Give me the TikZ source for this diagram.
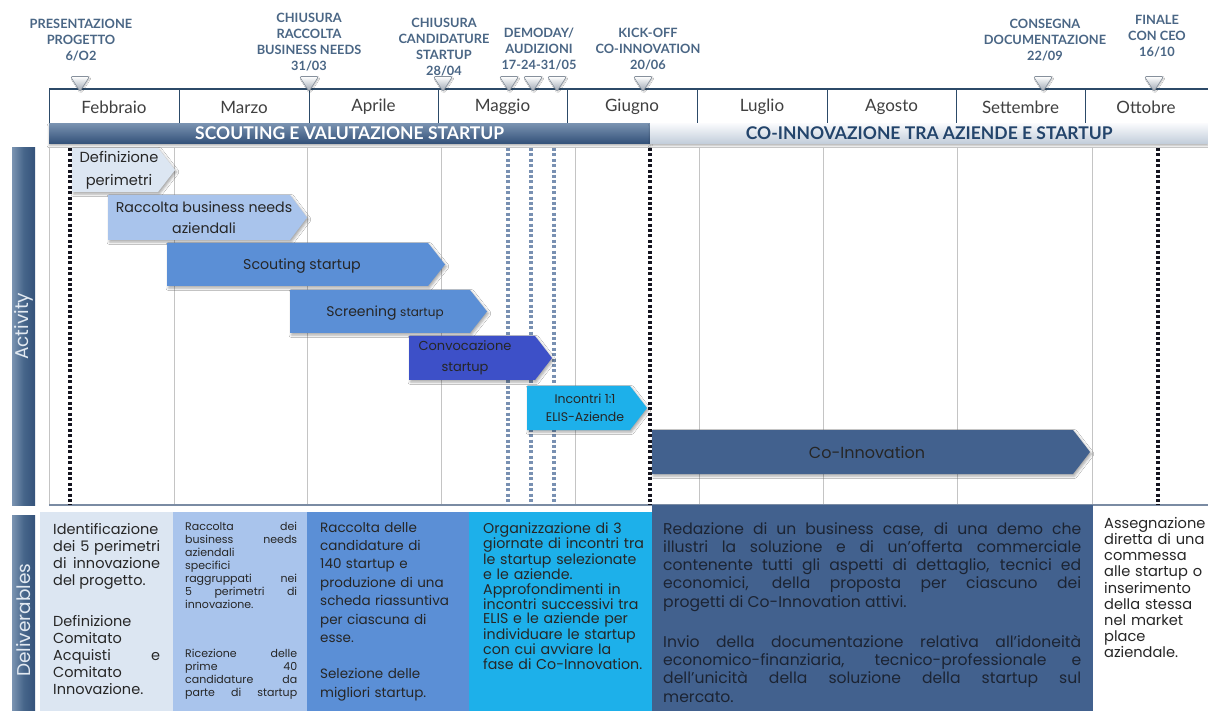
\documentclass[tikz,border=0pt]{standalone}
\usepackage{fontspec}
\setmainfont{Poppins}
\newfontfamily\headfont{Lato}
\usetikzlibrary{shadows.blur}

\definecolor{slate}{HTML}{42618E}
\definecolor{mstext}{HTML}{4A6685}
\definecolor{monthline}{HTML}{2C4A68}
\definecolor{monthtext}{HTML}{404040}
\definecolor{cA}{HTML}{DCE6F2}
\definecolor{cB}{HTML}{A9C4EC}
\definecolor{cC}{HTML}{5B8FD6}
\definecolor{cD}{HTML}{3D50C8}
\definecolor{cE}{HTML}{1DB0EA}
\definecolor{txt}{HTML}{262626}
\definecolor{txtdark}{HTML}{1C2433}
\definecolor{gridgray}{HTML}{C4C4C4}
\definecolor{dotblue}{HTML}{7890B2}
\definecolor{dotblack}{HTML}{14141F}
\definecolor{markgray}{HTML}{9AA4B0}
\definecolor{markedge}{HTML}{86909C}
\definecolor{barlight}{HTML}{7A93B1}
\definecolor{barmid}{HTML}{46658A}
\definecolor{bardark}{HTML}{34527A}
\definecolor{coitop}{HTML}{FAFBFD}
\definecolor{coibottom}{HTML}{C3CEDB}
\definecolor{coitext}{HTML}{23446B}
\definecolor{sidetext}{HTML}{E2E9F1}

% milestone marker: small shaded triangle pointing down to the month band
\newcommand{\msmarker}[1]{%
  \shade[top color=white, bottom color=markgray, draw=markedge, line width=0.6pt,
         rounded corners=1.5pt,
         blur shadow={shadow xshift=0.8pt, shadow yshift=-1pt, shadow opacity=25, shadow blur radius=1pt}]
    (#1-9.5,76.5) -- (#1+9.5,76.5) -- (#1,91.5) -- cycle;}

% activity arrow: left x, tip x, top y, bottom y, colour
\newcommand{\actshape}[5]{%
  \fill[#5, blur shadow={shadow xshift=1.5pt, shadow yshift=-2pt,
        shadow opacity=35, shadow blur radius=2.5pt}]
    (#1,#3) -- (#2-17,#3) -- (#2,{(#3+#4)/2}) -- (#2-17,#4) -- (#1,#4) -- cycle;}

\begin{document}
\begin{tikzpicture}[x=1pt, y=-1pt,
  ms/.style={font=\headfont\bfseries\fontsize{12.8}{16}\selectfont, text=mstext,
             align=center, inner sep=0pt, anchor=north},
  month/.style={font=\headfont\fontsize{17}{19}\selectfont, text=monthtext, inner sep=0pt},
  phase/.style={anchor=north west, minimum height=20pt, inner sep=0pt,
                font=\headfont\bfseries\fontsize{17.5}{19}\selectfont,
                blur shadow={shadow xshift=0pt, shadow yshift=-2.5pt,
                             shadow opacity=30, shadow blur radius=2pt}},
  acttext/.style={text=txt, align=center, inner sep=0pt},
  sidebar/.style={anchor=north west, minimum width=23pt, inner sep=0pt,
                  left color=barlight, right color=bardark, middle color=barmid},
  sidelabel/.style={rotate=90, text=sidetext, font=\fontsize{18.5}{20}\selectfont, inner sep=0pt},
  delbg/.style={anchor=north west, inner sep=0pt},
  deltext/.style={anchor=north west, inner sep=0pt, text=txt},
  blackdots/.style={dotblack, line width=3.4pt, dash pattern=on 3pt off 2.4pt},
  bluedots/.style={dotblue, line width=3.4pt, dash pattern=on 3pt off 2.4pt},
]
\path[use as bounding box, fill=white] (0,0) rectangle (1208,711);
\clip (0,0) rectangle (1208,711);

% ---------- milestones ----------
\node[ms] (m1) at (81,18.5) {PRESENTAZIONE\\PROGETTO\\6/O2};
\node[ms] (m2) at (309,12.5) {CHIUSURA\\RACCOLTA\\BUSINESS NEEDS\\31/03};
\node[ms] (m3) at (444,17.5) {CHIUSURA\\CANDIDATURE\\STARTUP\\28/04};
\node[ms] (m4) at (539,27.5) {DEMODAY/\\AUDIZIONI\\17-24-31/05};
\node[ms] (m5) at (648,27.5) {KICK-OFF\\CO-INNOVATION\\20/06};
\node[ms] (m6) at (1045,18.5) {CONSEGNA\\DOCUMENTAZIONE\\22/09};
\node[ms] (m7) at (1157,15.5) {FINALE\\CON CEO\\16/10};

% ---------- month band ----------
\draw[monthline, line width=1.1pt] (49,89) -- (1208,89);
\foreach \x in {49,179,309,438,567,697,827,956,1085}
  {\draw[monthline, line width=0.9pt] (\x,89) -- (\x,123);}
\foreach \c/\n/\t in {114/feb/Febbraio, 244/mar/Marzo, 373.5/apr/Aprile,
                      502.5/mag/Maggio, 632/giu/Giugno, 762/lug/Luglio,
                      891.5/ago/Agosto, 1020.5/set/Settembre, 1146/ott/Ottobre}
  {\node[month] (\n) at (\c,107) {\t};}

\foreach \x in {80,309,443,509,533,557,643,1043,1154}
  {\msmarker{\x}}

% ---------- phase bars ----------
\node[phase, minimum width=601pt, text=white,
      top color=barlight, middle color=barmid, bottom color=bardark]
  (ph1) at (49,123) {SCOUTING E VALUTAZIONE STARTUP};
\node[phase, minimum width=558pt, text=coitext,
      top color=coitop, bottom color=coibottom]
  (ph2) at (650,123) {CO-INNOVAZIONE TRA AZIENDE E STARTUP};

% ---------- activity grid ----------
\foreach \x in {49,174,307,441,575,699,823,957,1092}
  {\draw[gridgray, line width=0.8pt] (\x,147) -- (\x,504);}
\draw[dotblue!70!gray, line width=1.2pt] (49,505) -- (1208,505);

\foreach \x in {70,650,1158}
  {\draw[blackdots] (\x,148) -- (\x,505);}
\foreach \x in {508,531,554}
  {\draw[bluedots] (\x,148) -- (\x,505);}

% ---------- activities ----------
\actshape{72}{175}{148}{192}{cA}
\node[acttext, font=\fontsize{14.6}{23}\selectfont] (a1) at (119,170) {Definizione\\perimetri};
\actshape{108}{307}{195}{240}{cB}
\node[acttext, font=\fontsize{14.2}{21}\selectfont] (a2) at (204,217.5) {Raccolta business needs\\aziendali};
\actshape{167}{445}{243}{286}{cC}
\node[acttext, font=\fontsize{14.2}{16}\selectfont] (a3) at (302,266) {Scouting startup};
\actshape{290}{487}{290}{333}{cC}
\node[acttext, font=\fontsize{14}{16}\selectfont] (a4) at (385,313) {Screening {\fontsize{12}{14}\selectfont startup}};
\actshape{409}{552}{336}{380}{cD}
\node[acttext, font=\fontsize{13}{21}\selectfont] (a5) at (465,358) {Convocazione\\startup};
\actshape{527}{647}{386}{430}{cE}
\node[acttext, font=\fontsize{12.5}{18.5}\selectfont] (a6) at (585,408) {Incontri 1:1\\ELIS-Aziende};
\actshape{652}{1090}{430}{474}{slate}
\node[acttext, font=\fontsize{16}{18}\selectfont] (a7) at (867,452) {Co-Innovation};

% ---------- deliverables ----------
\node[delbg, fill=cA, minimum width=133pt, minimum height=199pt] (d1) at (40,512) {};
\node[delbg, fill=cB, minimum width=134pt, minimum height=199pt] (d2) at (173,512) {};
\node[delbg, fill=cC, minimum width=162pt, minimum height=199pt] (d3) at (307,512) {};
\node[delbg, fill=cE, minimum width=183pt, minimum height=199pt] (d4) at (469,512) {};
\node[delbg, fill=slate, minimum width=441pt, minimum height=206pt] (d5) at (652,505) {};

\node[deltext, text width=107pt, align=justify, font=\fontsize{14.5}{17}\selectfont]
  (t1) at (53,523) {Identificazione\linebreak dei 5 perimetri\linebreak di innovazione\linebreak
  del progetto.\\[24pt]Definizione\linebreak Comitato\linebreak Acquisti e\linebreak Comitato\linebreak Innovazione.};

\node[deltext, text width=112pt, align=justify, font=\fontsize{11}{13}\selectfont]
  (t2) at (185,522) {Raccolta dei\linebreak business needs\linebreak aziendali\linebreak specifici\linebreak
  raggruppati nei\linebreak 5 perimetri di\linebreak innovazione.\\[36pt]Ricezione delle\linebreak
  prime 40\linebreak candidature da\linebreak parte di startup\linebreak\mbox{}};

\node[deltext, text width=142pt, align=left, font=\fontsize{13.5}{18.4}\selectfont]
  (t3) at (320,522) {Raccolta delle\\candidature di\\140 startup e\\produzione di una\\scheda riassuntiva\\
  per ciascuna di\\esse.\\[18pt]Selezione delle\\migliori startup.};

\node[deltext, text width=168pt, align=left, font=\fontsize{14.2}{14.3}\selectfont]
  (t4) at (483,522) {Organizzazione di 3\\giornate di incontri tra\\le startup selezionate\\e le aziende.\\
  Approfondimenti in\\incontri successivi tra\\ELIS e le aziende per\\individuare le startup\\
  con cui avviare la\\fase di Co-Innovation.};

\node[deltext, text=txtdark, text width=418pt, align=justify, font=\fontsize{15.6}{18.3}\selectfont]
  (t5) at (663,522) {Redazione di un business case, di una demo che\linebreak
  illustri la soluzione e di un’offerta commerciale\linebreak
  contenente tutti gli aspetti di dettaglio, tecnici ed\linebreak
  economici, della proposta per ciascuno dei\linebreak
  progetti di Co-Innovation attivi.\\[21.7pt]
  Invio della documentazione relativa all’idoneità\linebreak
  economico-finanziaria, tecnico-professionale e\linebreak
  dell’unicità della soluzione della startup sul\linebreak mercato.};

\node[deltext, text width=106pt, align=left, font=\fontsize{14.6}{16.2}\selectfont]
  (t6) at (1104,517) {Assegnazione\\diretta di una\\commessa\\alle startup o\\inserimento\\
  della stessa\\nel market\\place\\aziendale.};

% ---------- side labels ----------
\node[sidebar, minimum height=358pt] (sb1) at (12,147) {};
\node[sidelabel] (sl1) at (sb1.center) {Activity};
\node[sidebar, minimum height=196pt] (sb2) at (12,515) {};
\node[sidelabel] (sl2) at ([yshift=-7pt]sb2.center) {Deliverables};
\end{tikzpicture}
\end{document}
